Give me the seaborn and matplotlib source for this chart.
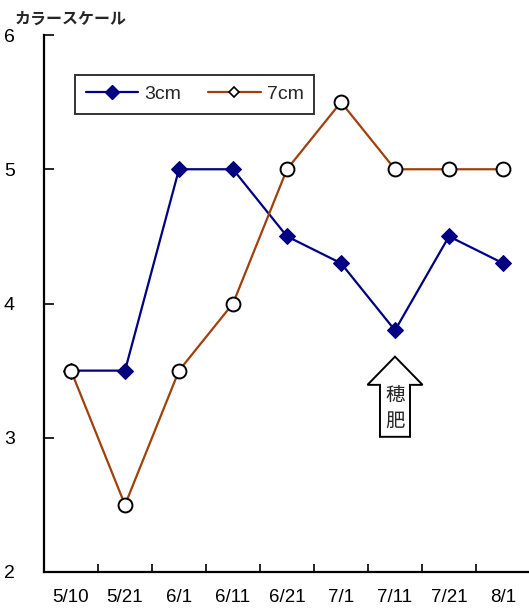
import matplotlib
matplotlib.use("Agg")
import matplotlib.pyplot as plt
from matplotlib.patches import FancyArrow
from matplotlib.lines import Line2D
import numpy as np
import pandas as pd
import seaborn as sns

# Sampling dates and colour-scale readings for two planting depths
dates = ["5/10", "5/21", "6/1", "6/11", "6/21", "7/1", "7/11", "7/21", "8/1"]
depth_3cm = [3.5, 3.5, 5.0, 5.0, 4.5, 4.3, 3.8, 4.5, 4.3]
depth_7cm = [3.5, 2.5, 3.5, 4.0, 5.0, 5.5, 5.0, 5.0, 5.0]
y_ticks = [2, 3, 4, 5, 6]

sns.set_theme(style="white")
plt.rcParams["font.family"] = ["Liberation Sans", "Noto Sans CJK JP", "DejaVu Sans"]

pos = np.arange(len(dates))
df3 = pd.DataFrame({"pos": pos, "value": depth_3cm})
df7 = pd.DataFrame({"pos": pos, "value": depth_7cm})

fig = plt.figure(figsize=(5.29, 6.09), dpi=100)
ax = fig.add_axes([44 / 529, 37 / 609, 486 / 529, 537 / 609])

c3 = "#000080"
c7 = "#a0400c"

sns.lineplot(data=df3, x="pos", y="value", ax=ax, color=c3, lw=1.6,
             marker="D", markersize=8, markerfacecolor=c3,
             markeredgecolor=c3, sort=False, zorder=3)
sns.lineplot(data=df7, x="pos", y="value", ax=ax, color=c7, lw=1.6,
             marker="o", markersize=10, markerfacecolor="white",
             markeredgecolor="black", markeredgewidth=1.4, sort=False, zorder=4)

ax.set_xlim(-0.5, len(dates) - 0.5)
ax.set_ylim(2, 6)
ax.set_yticks(y_ticks)
ax.set_yticklabels([str(t) for t in y_ticks])

# boundary ticks between dates, labels centred on each date
ax.set_xticks(pos[:-1] + 0.5)
ax.set_xticklabels([])
ax.set_xticks(pos, minor=True)
ax.set_xticklabels(dates, minor=True)
ax.tick_params(axis="x", which="major", direction="in", length=6, width=1.2,
               color="black", bottom=True)
ax.tick_params(axis="x", which="minor", length=0, pad=12, labelsize=13.5,
               labelcolor="black")
ax.tick_params(axis="y", direction="in", length=7, width=1.2, color="black",
               left=True, pad=21, labelsize=14, labelcolor="black")

ax.set_xlabel("")
ax.set_ylabel("")
for side in ["top", "right"]:
    ax.spines[side].set_visible(False)
for side in ["left", "bottom"]:
    ax.spines[side].set_color("black")
    ax.spines[side].set_linewidth(1.6)

handles = [
    Line2D([], [], color=c3, lw=1.6, marker="D", markersize=7,
           markerfacecolor=c3, markeredgecolor=c3),
    Line2D([], [], color=c7, lw=1.6, marker="D", markersize=5,
           markerfacecolor="white", markeredgecolor="black", markeredgewidth=1.2),
]
leg = ax.legend(handles, ["3cm", "7cm"], ncol=2, loc="upper left",
                bbox_to_anchor=(0.064, 0.926), fontsize=14, frameon=True,
                fancybox=False, edgecolor="black", handlelength=2.7,
                columnspacing=1.4, borderpad=0.55, handletextpad=0.3,
                borderaxespad=0)
leg.get_frame().set_linewidth(1.4)
leg.set_zorder(10)

# hollow arrow marking the panicle fertilizer application
ax.add_patch(FancyArrow(6, 3.007, 0, 0.597, width=0.556, head_width=1.02,
                        head_length=0.21, length_includes_head=True,
                        facecolor="white", edgecolor="black", lw=1.4, zorder=5))
ax.text(6, 3.31, "穂", ha="center", va="center", fontsize=14,
        family=["Noto Sans CJK JP"], zorder=6)
ax.text(6, 3.12, "肥", ha="center", va="center", fontsize=14,
        family=["Noto Sans CJK JP"], zorder=6)

txt = fig.text(15 / 529, 1 - 19 / 609, "カラースケール", ha="left", va="center",
               fontsize=11.5, fontweight="bold", family=["Noto Sans CJK JP"])

fig.savefig("out.png", dpi=100)
